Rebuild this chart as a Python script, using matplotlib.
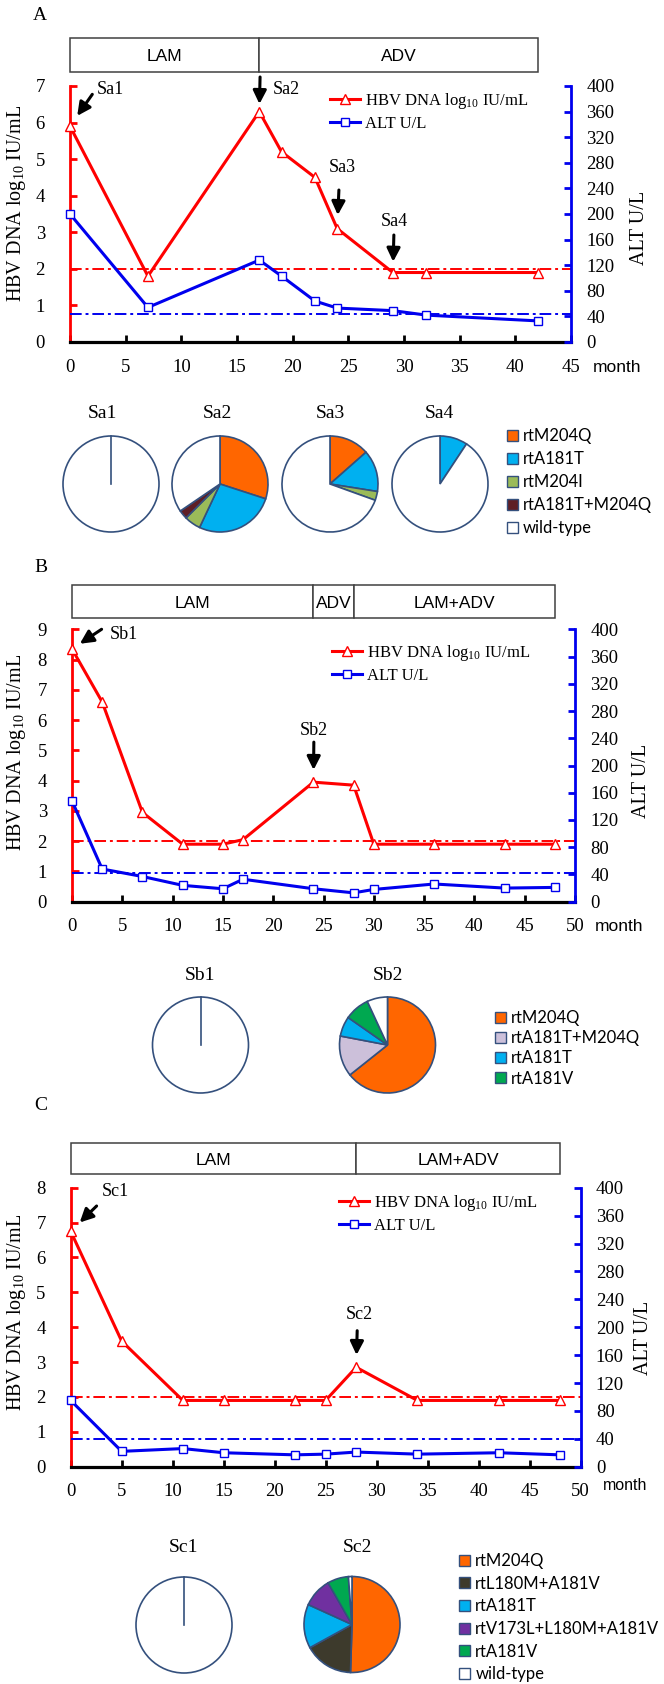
import matplotlib
matplotlib.use('Agg')
import matplotlib.pyplot as plt
from matplotlib.patches import Patch, Circle

W, H = 664, 1684
SERIF = ['Liberation Serif', 'DejaVu Serif']
SANS = ['Liberation Sans', 'DejaVu Sans']
PIEFONT = ['Lato', 'DejaVu Sans']
plt.rcParams['font.family'] = SERIF
plt.rcParams['mathtext.fontset'] = 'custom'
plt.rcParams['mathtext.rm'] = 'Liberation Serif'
plt.rcParams['mathtext.it'] = 'Liberation Serif:italic'
plt.rcParams['mathtext.bf'] = 'Liberation Serif:bold'

RED = '#FF0000'
BLUE = '#0000EE'
PIE_EDGE = '#34507D'
BOX_EDGE = '#404040'

# ---------------- data ----------------
HBV_LIMIT = 2

A_months = [0, 7, 17, 19, 22, 24, 29, 32, 42]
A_hbv = [5.9, 1.8, 6.3, 5.2, 4.5, 3.1, 1.9, 1.9, 1.9]
A_alt = [200, 54, 128, 103, 64, 53, 49, 42, 33]
A_alt_limit = 44
A_treat = ['LAM', 'ADV']
A_treat_start = [0, 17]
A_treat_end = [17, 42]
A_samples = ['Sa1', 'Sa2', 'Sa3', 'Sa4']
A_sample_month = [0, 17, 24, 29]
A_mut = ['rtM204Q', 'rtA181T', 'rtM204I', 'rtA181T+M204Q', 'wild-type']
A_mut_colors = ['#FF6600', '#00B0F0', '#9BBB59', '#5E1F26', '#FFFFFF']
A_pies = [[0, 0, 0, 0, 100],
          [30, 27, 5.5, 3, 34.5],
          [13.5, 14, 3, 0, 69.5],
          [0, 9.3, 0, 0, 90.7]]

B_months = [0, 3, 7, 11, 15, 17, 24, 28, 30, 36, 43, 48]
B_hbv = [8.35, 6.6, 2.95, 1.9, 1.9, 2.05, 3.95, 3.85, 1.9, 1.9, 1.9, 1.9]
B_alt = [148, 48, 37, 24, 19, 33, 19, 13, 18, 26, 20, 21]
B_alt_limit = 42
B_treat = ['LAM', 'ADV', 'LAM+ADV']
B_treat_start = [0, 24, 28]
B_treat_end = [24, 28, 48]
B_samples = ['Sb1', 'Sb2']
B_sample_month = [0, 24]
B_mut = ['rtM204Q', 'rtA181T+M204Q', 'rtA181T', 'rtA181V', 'wild-type']
B_mut_colors = ['#FF6600', '#CCC0DA', '#00B0F0', '#00A850', '#FFFFFF']
B_legend_count = 4
B_pies = [[0, 0, 0, 0, 100],
          [64.3, 13.7, 6.7, 8.4, 6.9]]

C_months = [0, 5, 11, 15, 22, 25, 28, 34, 42, 48]
C_hbv = [6.75, 3.6, 1.9, 1.9, 1.9, 1.9, 2.85, 1.9, 1.9, 1.9]
C_alt = [95, 22, 26, 20, 17, 18, 21, 18, 20, 17]
C_alt_limit = 40
C_treat = ['LAM', 'LAM+ADV']
C_treat_start = [0, 28]
C_treat_end = [28, 48]
C_samples = ['Sc1', 'Sc2']
C_sample_month = [0, 28]
C_mut = ['rtM204Q', 'rtL180M+A181V', 'rtA181T', 'rtV173L+L180M+A181V', 'rtA181V', 'wild-type']
C_mut_colors = ['#FF6600', '#3D3A2C', '#00B0F0', '#7030A0', '#00A850', '#FFFFFF']
C_pies = [[0, 0, 0, 0, 0, 100],
          [50.5, 16.5, 14.8, 9.9, 7.1, 1.2]]

HBV_LABEL = 'HBV DNA log$_{\\mathrm{10}}$ IU/mL'
ALT_LABEL = 'ALT U/L'

# ---------------- layout (pixels, y from top) ----------------
LAYOUT = {
    'A': dict(letter=(40, 16), box=(38, 72), axes=(70, 86, 571, 342), xmax=45, ymax=7,
              hbv_lab=(17, 203), alt_lab=(640, 228), month=(617, 368), month_size=12.5,
              legend=(330, 91),
              ann=[(22.3, 31.9, 12.6, 40, 37.2), (0.8, 34.6, 7.6, 26.8, 22.6),
                   (1.7, 38.6, 13.6, 5, 61.6), (1.0, 37.5, 10.8, 1.2, 50.8)],
              pies=[(111, 484), (220, 484), (330, 484), (440, 484)], pie_r=48,
              titles=[(102, 413), (217, 413), (330, 413), (439, 413)],
              pie_leg=(507, 428, 0.42)),
    'B': dict(letter=(41, 568), box=(585, 618.3), axes=(72, 629.3, 575, 901.7), xmax=50, ymax=9,
              hbv_lab=(17, 752), alt_lab=(642, 781), month=(619, 926.5), month_size=12.5,
              legend=(332, 643),
              ann=[(29.6, 19.7, 9.4, 51.5, 14), (0.4, 40, 12.2, 0, 52)],
              pies=[(200.5, 1045), (387.5, 1045)], pie_r=48,
              titles=[(200, 975), (387.5, 975)],
              pie_leg=(495.5, 1010, 0.25)),
    'C': dict(letter=(41, 1105), box=(1142.7, 1174.3), axes=(70.7, 1187.7, 580.5, 1466.7), xmax=50, ymax=8,
              hbv_lab=(17, 1312), alt_lab=(644, 1338), month=(625, 1486), month_size=11.5,
              legend=(339, 1193),
              ann=[(25.9, 25.3, 12.6, 44.7, 39.6), (1.0, 36.6, 12.3, 3, 53.3)],
              pies=[(184, 1625), (352, 1624.5)], pie_r=48,
              titles=[(184, 1548), (357, 1548)],
              pie_leg=(459.5, 1553, 0.4)),
}

fig = plt.figure(figsize=(W / 100, H / 100), dpi=100)


def fig_rect(x0, y0, x1, y1):
    return [x0 / W, 1 - y1 / H, (x1 - x0) / W, (y1 - y0) / H]


def fig_xy(x, y):
    return (x / W, 1 - y / H)


def draw_chart(letter, L, months, hbv, alt, alt_limit, treat, t0, t1, samples, sample_month):
    x0, y0, x1, y1 = L['axes']
    fig.text(*fig_xy(*L['letter']), letter, ha='center', va='center', fontsize=14)

    # treatment bar
    bax = fig.add_axes(fig_rect(x0, L['box'][0], x1, L['box'][1]))
    bax.set_xlim(0, L['xmax'])
    bax.set_ylim(0, 1)
    bax.axis('off')
    widths = [e - s for s, e in zip(t0, t1)]
    bars = bax.barh([0.5] * len(treat), widths, left=t0, height=1.0,
                    color='white', edgecolor=BOX_EDGE, linewidth=1.1)
    for b in bars:
        b.set_clip_on(False)
    for name, s, e in zip(treat, t0, t1):
        bax.text((s + e) / 2, 0.45, name, ha='center', va='center',
                 fontsize=12.5, family=SANS)

    ax = fig.add_axes(fig_rect(x0, y0, x1, y1))
    ax2 = ax.twinx()
    ax.set_xlim(0, L['xmax'])
    ax.set_ylim(0, L['ymax'])
    ax2.set_ylim(0, 400)

    dash = (0, (6, 2, 1.5, 2))
    ax.axhline(HBV_LIMIT, color=RED, lw=1.4, ls=dash, zorder=1)
    ax2.axhline(alt_limit, color=BLUE, lw=1.4, ls=dash, zorder=1)

    l1, = ax.plot(months, hbv, color=RED, lw=2.2, marker='^', ms=6.5,
                  mfc='white', mec=RED, mew=1.0, zorder=3, clip_on=False)
    l2, = ax2.plot(months, alt, color=BLUE, lw=2.2, marker='s', ms=5.5,
                   mfc='white', mec=BLUE, mew=1.0, zorder=3, clip_on=False)

    for s in ['top', 'right']:
        ax.spines[s].set_visible(False)
    for s in ['top', 'left', 'bottom']:
        ax2.spines[s].set_visible(False)
    ax.spines['left'].set_color(RED)
    ax.spines['left'].set_linewidth(2.0)
    ax.spines['bottom'].set_color('black')
    ax.spines['bottom'].set_linewidth(2.3)
    ax2.spines['right'].set_color(BLUE)
    ax2.spines['right'].set_linewidth(2.0)

    ax.set_xticks(range(0, L['xmax'] + 1, 5))
    ax.set_yticks(range(0, L['ymax'] + 1))
    ax2.set_yticks(range(0, 401, 40))
    ax.tick_params(axis='x', direction='in', length=5, width=2.0, color='black',
                   pad=12, labelsize=13.5)
    ax.tick_params(axis='y', direction='in', length=5, width=2.0, color=RED,
                   pad=18, labelsize=13.5)
    ax2.tick_params(axis='y', direction='in', length=5, width=2.0, color=BLUE,
                    pad=11, labelsize=13.5)

    fig.text(*fig_xy(*L['hbv_lab']), HBV_LABEL, rotation=90, ha='center', va='center', fontsize=14.5)
    fig.text(*fig_xy(*L['alt_lab']), ALT_LABEL, rotation=90, ha='center', va='center', fontsize=14.5)
    fig.text(*fig_xy(*L['month']), 'month', ha='center', va='center',
             fontsize=L['month_size'], family=SANS)

    lx, ly = L['legend']
    ax2.legend([l1, l2], [HBV_LABEL, ALT_LABEL], loc='upper left',
               bbox_to_anchor=fig_xy(lx, ly), bbox_transform=fig.transFigure,
               frameon=False, borderpad=0, borderaxespad=0, handlelength=1.8,
               handletextpad=0.3, labelspacing=0.3, fontsize=12)

    for name, m, (tdx, tdy, gap, sdx, sdy) in zip(samples, sample_month, L['ann']):
        v = hbv[months.index(m)]
        ax2.annotate('', xy=(m, v * 400 / L['ymax']), xytext=(tdx, tdy),
                     textcoords='offset pixels',
                     arrowprops=dict(arrowstyle='-|>,head_length=0.8,head_width=0.4',
                                     color='black', lw=2.2, shrinkA=0,
                                     shrinkB=gap * 0.72, mutation_scale=10))
        ax2.annotate(name, xy=(m, v * 400 / L['ymax']), xytext=(sdx, sdy),
                     textcoords='offset pixels', ha='center', va='center', fontsize=13)


def draw_pies(L, samples, pies, colors):
    r = L['pie_r']
    for name, vals_all, (cx, cy), (tx, ty) in zip(samples, pies, L['pies'], L['titles']):
        ax = fig.add_axes(fig_rect(cx - r, cy - r, cx + r, cy + r))
        vals = [v for v in vals_all if v > 0]
        cols = [c for v, c in zip(vals_all, colors) if v > 0]
        wedges, _ = ax.pie(vals, colors=cols, startangle=90, counterclock=False,
                           wedgeprops=dict(edgecolor=PIE_EDGE, linewidth=1.2))
        for w in wedges:
            w.set_clip_on(False)
        if len(vals) == 1:
            wedges[0].set_edgecolor('none')
            ax.add_patch(Circle((0, 0), 1, fill=False, ec=PIE_EDGE, lw=1.2, clip_on=False))
            ax.plot([0, 0], [0, 1], color=PIE_EDGE, lw=1.2, clip_on=False)
        ax.set_xlim(-1, 1)
        ax.set_ylim(-1, 1)
        ax.set_aspect('auto')
        fig.text(*fig_xy(tx, ty), name, ha='center', va='center', fontsize=14)


def pie_legend(L, labels, colors):
    x, ytop, spacing = L['pie_leg']
    handles = [Patch(facecolor=c, edgecolor=PIE_EDGE, linewidth=1.0) for c in colors]
    fig.legend(handles, labels, loc='upper left', bbox_to_anchor=fig_xy(x, ytop),
               frameon=False, borderpad=0, borderaxespad=0, handlelength=0.65,
               handleheight=0.65, handletextpad=0.3, labelspacing=spacing,
               prop={'family': PIEFONT, 'size': 12})


draw_chart('A', LAYOUT['A'], A_months, A_hbv, A_alt, A_alt_limit,
           A_treat, A_treat_start, A_treat_end, A_samples, A_sample_month)
draw_pies(LAYOUT['A'], A_samples, A_pies, A_mut_colors)
pie_legend(LAYOUT['A'], A_mut, A_mut_colors)

draw_chart('B', LAYOUT['B'], B_months, B_hbv, B_alt, B_alt_limit,
           B_treat, B_treat_start, B_treat_end, B_samples, B_sample_month)
draw_pies(LAYOUT['B'], B_samples, B_pies, B_mut_colors)
pie_legend(LAYOUT['B'], B_mut[:B_legend_count], B_mut_colors[:B_legend_count])

draw_chart('C', LAYOUT['C'], C_months, C_hbv, C_alt, C_alt_limit,
           C_treat, C_treat_start, C_treat_end, C_samples, C_sample_month)
draw_pies(LAYOUT['C'], C_samples, C_pies, C_mut_colors)
pie_legend(LAYOUT['C'], C_mut, C_mut_colors)

fig.savefig('out.png', dpi=100)
